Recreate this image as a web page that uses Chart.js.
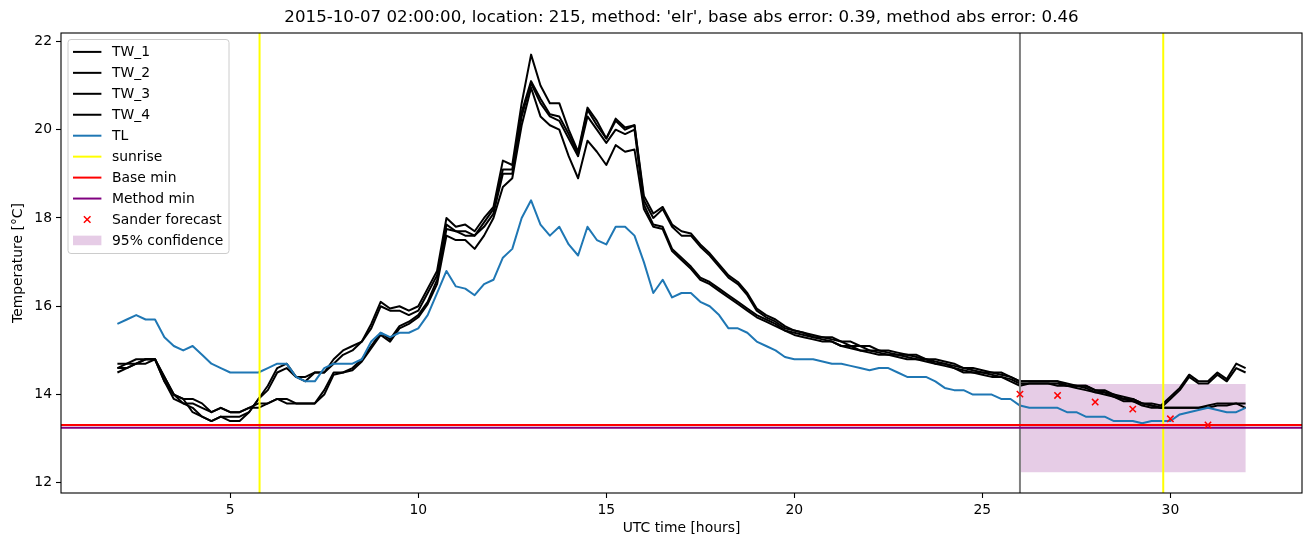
<!DOCTYPE html>
<html>
<head>
<meta charset="utf-8">
<script src="https://cdn.jsdelivr.net/npm/chart.js@4.4.1/dist/chart.umd.min.js"></script>
<style>
  html, body { margin: 0; padding: 0; background: #fff; }
</style>
</head>
<body>
<canvas id="chart" width="1311" height="547"></canvas>
<script>
// sampling grid of the station series (every 15 minutes, 2h .. 32h)
const hours = Array.from({ length: 121 }, (_, i) => 2 + i * 0.25)

const tw1 = [
  14.7, 14.7, 14.8, 14.8,   14.8, 14.4, 14.0, 13.8,   13.7, 13.5, 13.4, 13.5,
  13.4, 13.4, 13.6, 13.9,   14.2, 14.6, 14.7, 14.4,   14.4, 14.5, 14.5, 14.8,
  15.0, 15.1, 15.2, 15.6,   16.1, 15.95, 16.0, 15.9,  16.0, 16.4, 16.8, 18.0,
  17.8, 17.85, 17.7, 18.0,  18.25, 19.3, 19.2, 20.6,  21.7, 21.0, 20.6, 20.6,
  20.0, 19.5, 20.5, 20.2,   19.8, 20.25, 20.05, 20.1, 18.5, 18.1, 18.25, 17.85,
  17.7, 17.65, 17.4, 17.2,  16.95, 16.7, 16.55, 16.3, 15.95, 15.8, 15.7, 15.55,
  15.45, 15.4, 15.35, 15.3, 15.3, 15.2, 15.2, 15.1,   15.1, 15.0, 15.0, 14.95,
  14.9, 14.9, 14.8, 14.8,   14.75, 14.7, 14.6, 14.6,  14.55, 14.5, 14.5, 14.4,
  14.3, 14.3, 14.3, 14.3,   14.3, 14.25, 14.2, 14.2,  14.1, 14.1, 14.0, 13.95,
  13.9, 13.8, 13.8, 13.75,  13.95, 14.15, 14.45, 14.3, 14.3, 14.5, 14.35, 14.7,
  14.6
]
const tw2 = [
  14.6, 14.7, 14.7, 14.8,   14.8, 14.4, 14.0, 13.9,   13.6, 13.5, 13.4, 13.5,
  13.5, 13.5, 13.6, 13.9,   14.1, 14.5, 14.6, 14.4,   14.3, 14.5, 14.5, 14.7,
  14.9, 15.0, 15.2, 15.5,   16.0, 15.9, 15.9, 15.8,   15.9, 16.3, 16.7, 17.85,
  17.7, 17.7, 17.6, 17.9,   18.2, 19.1, 19.1, 20.4,   21.1, 20.7, 20.35, 20.3,
  19.9, 19.45, 20.45, 20.1, 19.8, 20.2, 20.0, 20.1,   18.4, 18.0, 18.2, 17.8,
  17.6, 17.6, 17.35, 17.15, 16.9, 16.65, 16.5, 16.25, 15.9, 15.75, 15.65, 15.5,
  15.45, 15.4, 15.3, 15.3,  15.25, 15.2, 15.1, 15.1,  15.0, 15.0, 14.95, 14.9,
  14.9, 14.85, 14.8, 14.75, 14.7, 14.65, 14.6, 14.55, 14.5, 14.5, 14.45, 14.4,
  14.3, 14.3, 14.3, 14.3,   14.3, 14.2, 14.2, 14.2,   14.1, 14.05, 14.0, 13.9,
  13.9, 13.8, 13.75, 13.7,  13.9, 14.1, 14.4, 14.25,  14.25, 14.45, 14.3, 14.6,
  14.5
]
const tw3 = [
  14.6, 14.6, 14.7, 14.8,   14.8, 14.3, 14.0, 13.9,   13.9, 13.8, 13.6, 13.7,
  13.6, 13.6, 13.7, 13.8,   13.8, 13.9, 13.9, 13.8,   13.8, 13.8, 14.1, 14.5,
  14.5, 14.6, 14.8, 15.1,   15.4, 15.25, 15.55, 15.65, 15.8, 16.1, 16.6, 17.75,
  17.7, 17.6, 17.6, 17.8,   18.1, 19.0, 19.0, 20.3,   21.05, 20.6, 20.3, 20.2,
  19.8, 19.4, 20.3, 20.0,   19.7, 20.0, 19.9, 20.0,   18.3, 17.85, 17.8, 17.3,
  17.1, 16.9, 16.65, 16.55, 16.4, 16.25, 16.1, 15.95, 15.8, 15.7, 15.6, 15.45,
  15.4, 15.35, 15.3, 15.25, 15.2, 15.1, 15.1, 15.0,   15.0, 14.95, 14.9, 14.9,
  14.85, 14.8, 14.8, 14.7,  14.7, 14.6, 14.55, 14.5,  14.5, 14.45, 14.4, 14.35,
  14.25, 14.25, 14.25, 14.25, 14.25, 14.2, 14.2, 14.15, 14.05, 14.05, 13.95, 13.9,
  13.85, 13.8, 13.75, 13.7, 13.7, 13.7, 13.7, 13.7,   13.75, 13.8, 13.8, 13.8,
  13.8
]
const tw4 = [
  14.5, 14.6, 14.7, 14.7,   14.8, 14.3, 13.9, 13.8,   13.8, 13.7, 13.6, 13.7,
  13.6, 13.6, 13.7, 13.7,   13.8, 13.9, 13.8, 13.8,   13.8, 13.8, 14.0, 14.45,
  14.5, 14.55, 14.75, 15.05, 15.35, 15.2, 15.5, 15.6, 15.75, 16.05, 16.5, 17.6,
  17.5, 17.5, 17.3, 17.6,   18.0, 18.7, 18.9, 20.1,   20.95, 20.3, 20.1, 20.0,
  19.4, 18.9, 19.75, 19.5,  19.2, 19.65, 19.5, 19.55, 18.2, 17.8, 17.75, 17.25,
  17.05, 16.85, 16.6, 16.5, 16.35, 16.2, 16.05, 15.9, 15.75, 15.65, 15.55, 15.45,
  15.35, 15.3, 15.25, 15.2, 15.2, 15.1, 15.05, 15.0,  14.95, 14.9, 14.9, 14.85,
  14.8, 14.8, 14.75, 14.7,  14.65, 14.6, 14.5, 14.5,  14.45, 14.4, 14.4, 14.3,
  14.2, 14.25, 14.25, 14.25, 14.2, 14.2, 14.15, 14.1, 14.05, 14.0, 13.95, 13.85,
  13.85, 13.75, 13.7, 13.7, 13.7, 13.7, 13.7, 13.7,   13.7, 13.75, 13.75, 13.8,
  13.7
]
const tl = [
  15.6, 15.7, 15.8, 15.7,   15.7, 15.3, 15.1, 15.0,   15.1, 14.9, 14.7, 14.6,
  14.5, 14.5, 14.5, 14.5,   14.6, 14.7, 14.7, 14.4,   14.3, 14.3, 14.6, 14.7,
  14.7, 14.7, 14.8, 15.2,   15.4, 15.3, 15.4, 15.4,   15.5, 15.8, 16.3, 16.8,
  16.45, 16.4, 16.25, 16.5, 16.6, 17.1, 17.3, 18.0,   18.4, 17.85, 17.6, 17.8,
  17.4, 17.15, 17.8, 17.5,  17.4, 17.8, 17.8, 17.6,   17.0, 16.3, 16.6, 16.2,
  16.3, 16.3, 16.1, 16.0,   15.8, 15.5, 15.5, 15.4,   15.2, 15.1, 15.0, 14.85,
  14.8, 14.8, 14.8, 14.75,  14.7, 14.7, 14.65, 14.6,  14.55, 14.6, 14.6, 14.5,
  14.4, 14.4, 14.4, 14.3,   14.15, 14.1, 14.1, 14.0,  14.0, 14.0, 13.9, 13.9,
  13.75, 13.7, 13.7, 13.7,  13.7, 13.6, 13.6, 13.5,   13.5, 13.5, 13.4, 13.4,
  13.4, 13.35, 13.4, 13.4,  13.4, 13.55, 13.6, 13.65, 13.7, 13.65, 13.6, 13.6,
  13.7
]

const forecastHours = [26, 27, 28, 29, 30, 31]
const forecastTemps = [14.01, 13.98, 13.83, 13.67, 13.45, 13.31]
const bandHours = [26, 32]
const bandLow = [12.24, 12.24]
const bandHigh = [14.24, 14.24]
const sunriseHours = [5.78, 29.81]
const forecastStart = 26
const baseMin = 13.31
const methodMin = 13.25

const xTicks = [5, 10, 15, 20, 25, 30]
const yTicks = [12, 14, 16, 18, 20, 22]

const titleText = "2015-10-07 02:00:00, location: 215, method: 'elr', base abs error: 0.39, method abs error: 0.46"
const FAMILY = "'DejaVu Sans', sans-serif"
const tickFont = { family: FAMILY, size: 13.9 }
const bandColor = 'rgba(128, 0, 128, 0.2)'

const series = (label, values, color) => ({
  label,
  data: hours.map((h, i) => ({ x: h, y: values[i] })),
  borderColor: color,
  borderWidth: 2,
  borderJoinStyle: 'round',
  pointRadius: 0,
  fill: false,
  tension: 0
})

const datasets = [
  series('TW_1', tw1, '#000000'),
  series('TW_2', tw2, '#000000'),
  series('TW_3', tw3, '#000000'),
  series('TW_4', tw4, '#000000'),
  series('TL', tl, '#1f77b4'),
  {
    type: 'scatter',
    label: 'Sander forecast',
    data: forecastHours.map((h, i) => ({ x: h, y: forecastTemps[i] })),
    pointStyle: 'crossRot',
    pointRadius: 4.5,
    borderColor: '#ff0000',
    borderWidth: 1.5
  }
]
// later datasets on top, as in matplotlib
datasets.forEach((d, i) => { d.order = -i })
const TL_INDEX = 4

const legendItems = [
  { label: 'TW_1', kind: 'line', color: '#000000' },
  { label: 'TW_2', kind: 'line', color: '#000000' },
  { label: 'TW_3', kind: 'line', color: '#000000' },
  { label: 'TW_4', kind: 'line', color: '#000000' },
  { label: 'TL', kind: 'line', color: '#1f77b4' },
  { label: 'sunrise', kind: 'line', color: '#ffff00' },
  { label: 'Base min', kind: 'line', color: '#ff0000' },
  { label: 'Method min', kind: 'line', color: '#800080' },
  { label: 'Sander forecast', kind: 'cross', color: '#ff0000' },
  { label: '95% confidence', kind: 'patch', color: bandColor }
]

const drawCross = (ctx, x, y, r, color) => {
  ctx.save()
  ctx.strokeStyle = color
  ctx.lineWidth = 1.5
  ctx.beginPath()
  ctx.moveTo(x - r, y - r); ctx.lineTo(x + r, y + r)
  ctx.moveTo(x - r, y + r); ctx.lineTo(x + r, y - r)
  ctx.stroke()
  ctx.restore()
}

const matplotlibLook = {
  id: 'matplotlibLook',
  beforeDatasetsDraw(chart) {
    const { ctx, chartArea: a, scales: { x, y } } = chart
    ctx.save()
    ctx.beginPath()
    ctx.rect(a.left, a.top, a.right - a.left, a.bottom - a.top)
    ctx.clip()
    ctx.fillStyle = bandColor
    ctx.beginPath()
    bandHours.forEach((h, i) => {
      const px = x.getPixelForValue(h), py = y.getPixelForValue(bandHigh[i])
      i === 0 ? ctx.moveTo(px, py) : ctx.lineTo(px, py)
    })
    for (let i = bandHours.length - 1; i >= 0; i--) {
      ctx.lineTo(x.getPixelForValue(bandHours[i]), y.getPixelForValue(bandLow[i]))
    }
    ctx.closePath()
    ctx.fill()
    ctx.restore()
  },
  afterDatasetDraw(chart, args) {
    if (args.index !== TL_INDEX) return
    const { ctx, chartArea: a, scales: { x, y } } = chart
    const vline = (h, color) => {
      const px = x.getPixelForValue(h)
      ctx.strokeStyle = color
      ctx.beginPath(); ctx.moveTo(px, a.top); ctx.lineTo(px, a.bottom); ctx.stroke()
    }
    const hline = (v, color) => {
      const py = y.getPixelForValue(v)
      ctx.strokeStyle = color
      ctx.beginPath(); ctx.moveTo(a.left, py); ctx.lineTo(a.right, py); ctx.stroke()
    }
    ctx.save()
    ctx.beginPath()
    ctx.rect(a.left, a.top, a.right - a.left, a.bottom - a.top)
    ctx.clip()
    ctx.lineWidth = 2
    vline(forecastStart, '#808080')
    sunriseHours.forEach(h => vline(h, '#ffff00'))
    hline(baseMin, '#ff0000')
    hline(methodMin, '#800080')
    ctx.restore()
  },
  afterDraw(chart) {
    const { ctx, chartArea: a } = chart
    ctx.save()
    // axes frame
    ctx.strokeStyle = '#000'
    ctx.lineWidth = 1.1
    ctx.strokeRect(a.left, a.top, a.right - a.left, a.bottom - a.top)

    // title
    ctx.fillStyle = '#000'
    ctx.font = `16.67px ${FAMILY}`
    ctx.textAlign = 'center'
    ctx.textBaseline = 'middle'
    ctx.fillText(titleText, (a.left + a.right) / 2, 18)

    // legend, upper left inside the axes
    const lx = a.left + 7, ly = a.top + 6.5, lw = 161, lh = 214
    ctx.beginPath()
    ctx.roundRect(lx, ly, lw, lh, 3)
    ctx.fillStyle = 'rgba(255,255,255,0.8)'
    ctx.fill()
    ctx.strokeStyle = '#cccccc'
    ctx.lineWidth = 1
    ctx.stroke()
    ctx.font = `13.9px ${FAMILY}`
    ctx.textAlign = 'left'
    legendItems.forEach((it, i) => {
      const cy = ly + 12.4 + i * 20.95
      const h0 = lx + 5, h1 = lx + 33.4
      if (it.kind === 'line') {
        ctx.strokeStyle = it.color
        ctx.lineWidth = 2
        ctx.beginPath(); ctx.moveTo(h0, cy); ctx.lineTo(h1, cy); ctx.stroke()
      } else if (it.kind === 'cross') {
        drawCross(ctx, (h0 + h1) / 2, cy, 3.3, it.color)
      } else {
        ctx.fillStyle = it.color
        ctx.fillRect(h0, cy - 4.8, h1 - h0, 9.6)
      }
      ctx.fillStyle = '#000'
      ctx.fillText(it.label, lx + 44, cy + 0.5)
    })
    ctx.restore()
  }
}

new Chart(document.getElementById('chart'), {
  type: 'line',
  data: { datasets },
  plugins: [matplotlibLook],
  options: {
    responsive: false,
    devicePixelRatio: 1,
    animation: false,
    layout: { padding: { left: 0, top: 33, right: 9, bottom: 0 } },
    plugins: {
      legend: { display: false },
      tooltip: { enabled: false },
      title: { display: false }
    },
    scales: {
      x: {
        type: 'linear',
        min: 0.5,
        max: 33.5,
        afterBuildTicks: (axis) => { axis.ticks = xTicks.map(v => ({ value: v })) },
        afterFit: (scale) => { scale.height = 54 },
        ticks: { font: tickFont, color: '#000', padding: 4, maxRotation: 0 },
        grid: { drawOnChartArea: false, drawTicks: true, tickLength: 5, color: '#000', tickColor: '#000', tickWidth: 1.1 },
        border: { display: false },
        title: { display: true, text: 'UTC time [hours]', font: tickFont, color: '#000', padding: { top: 0, bottom: 10 } }
      },
      y: {
        type: 'linear',
        min: 11.77,
        max: 22.19,
        afterBuildTicks: (axis) => { axis.ticks = yTicks.map(v => ({ value: v })) },
        afterFit: (scale) => { scale.width = 61 },
        ticks: { font: tickFont, color: '#000', padding: 4 },
        grid: { drawOnChartArea: false, drawTicks: true, tickLength: 5, color: '#000', tickColor: '#000', tickWidth: 1.1 },
        border: { display: false },
        title: { display: true, text: 'Temperature [°C]', font: tickFont, color: '#000', padding: { top: 10, bottom: 0 } }
      }
    }
  }
})
</script>
</body>
</html>
